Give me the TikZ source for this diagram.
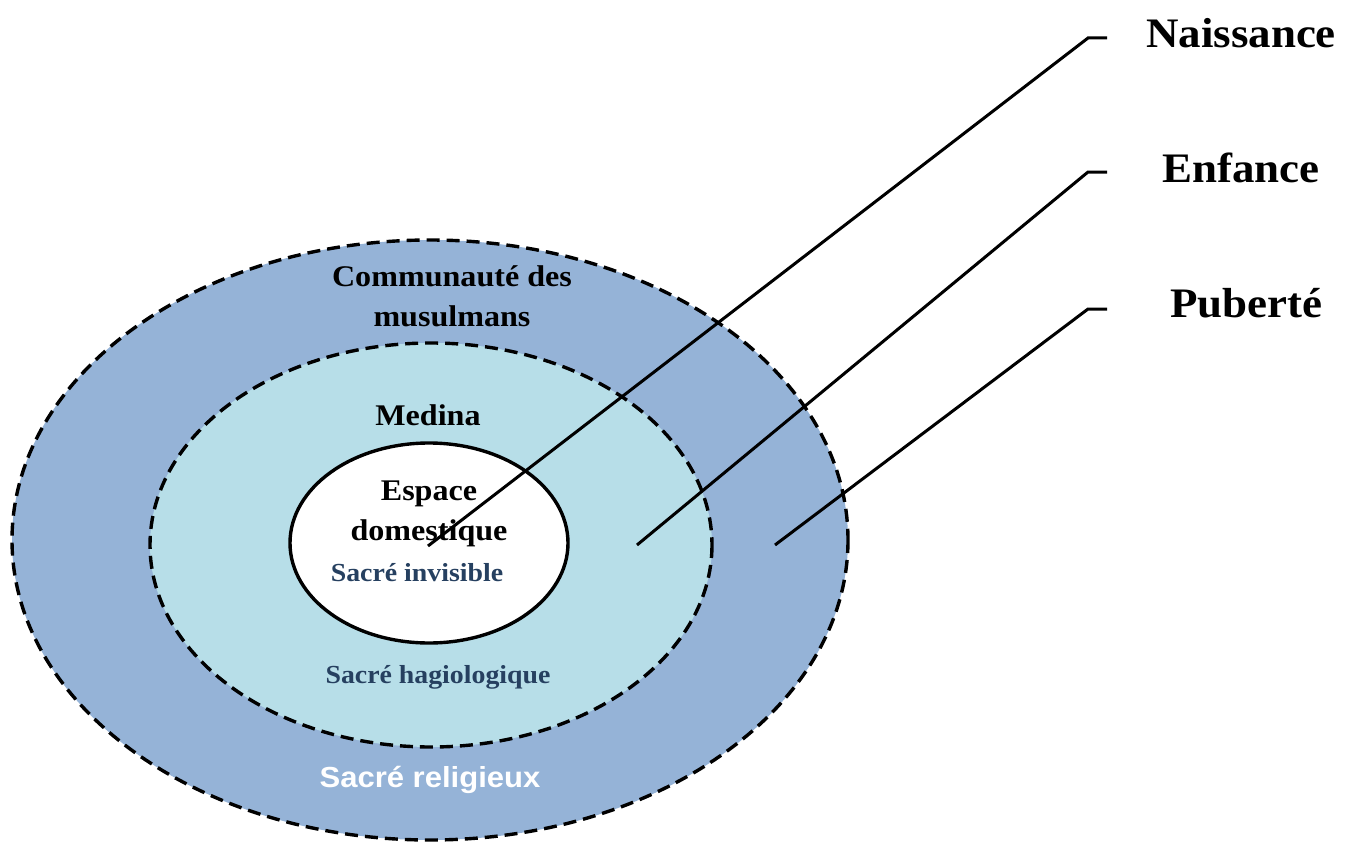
\documentclass[tikz,border=0pt]{standalone}
\usepackage{fontspec}
\setmainfont{Liberation Serif}
\newfontfamily\arialf{Liberation Sans}
\usepackage{graphicx}
\newcommand\stretchtxt[1]{\scalebox{1.07}[1]{#1}}
\definecolor{outerblue}{RGB}{149,179,215}
\definecolor{midblue}{RGB}{183,222,232}
\definecolor{darktxt}{RGB}{38,64,96}
\begin{document}
\begin{tikzpicture}[x=1pt,y=-1pt,
  ring/.style={draw=black,line width=3.4pt,dash pattern=on 13pt off 7pt},
  lbl/.style={inner sep=0pt,align=center,font=\fontsize{30}{40}\selectfont\bfseries},
  sublbl/.style={inner sep=0pt,text=darktxt,font=\fontsize{26}{30}\selectfont\bfseries},
  biglbl/.style={inner sep=0pt,font=\fontsize{42}{48}\selectfont\bfseries},
  leader/.style={draw=black,line width=3pt}]
\path[use as bounding box,fill=white] (0,0) rectangle (1353,843);
% rings
\path[fill=outerblue,ring] (430,540) ellipse [x radius=418,y radius=300];
\path[fill=midblue,ring] (431,545) ellipse [x radius=281,y radius=202];
\path[fill=white,draw=black,line width=3.4pt] (429,543) ellipse [x radius=139,y radius=100];
% ring labels
\node[lbl] (comm) at (452,296) {\stretchtxt{Communauté des}\\\stretchtxt{musulmans}};
\node[lbl] (medina) at (428,415) {\stretchtxt{Medina}};
\node[lbl] (espace) at (429,514) {\stretchtxt{Espace}\\\stretchtxt{domestique}};
\node[sublbl] (invis) at (417,573) {\stretchtxt{Sacré invisible}};
\node[sublbl] (hagio) at (438,677) {\stretchtxt{Sacré hagiologique}};
\node[inner sep=0pt,text=white,font=\arialf\fontsize{29}{34}\selectfont\bfseries] (relig) at (430,780) {\stretchtxt{Sacré religieux}};
% stage labels
\node[biglbl,anchor=west] (naiss) at (1146,33) {\stretchtxt{Naissance}};
\node[biglbl,anchor=west] (enf) at (1162,168) {\stretchtxt{Enfance}};
\node[biglbl,anchor=west] (pub) at (1170,303) {\stretchtxt{Puberté}};
% leader points
\coordinate (pN) at (428,546);
\coordinate (pE) at (637,545);
\coordinate (pP) at (775,545);
\coordinate (cN) at (1088,38);
\coordinate (cE) at (1088,172);
\coordinate (cP) at (1088,309);
\coordinate (eN) at (1107,38);
\coordinate (eE) at (1107,172);
\coordinate (eP) at (1107,309);
\draw[leader] (pN) -- (cN) -- (eN);
\draw[leader] (pE) -- (cE) -- (eE);
\draw[leader] (pP) -- (cP) -- (eP);
\end{tikzpicture}
\end{document}
